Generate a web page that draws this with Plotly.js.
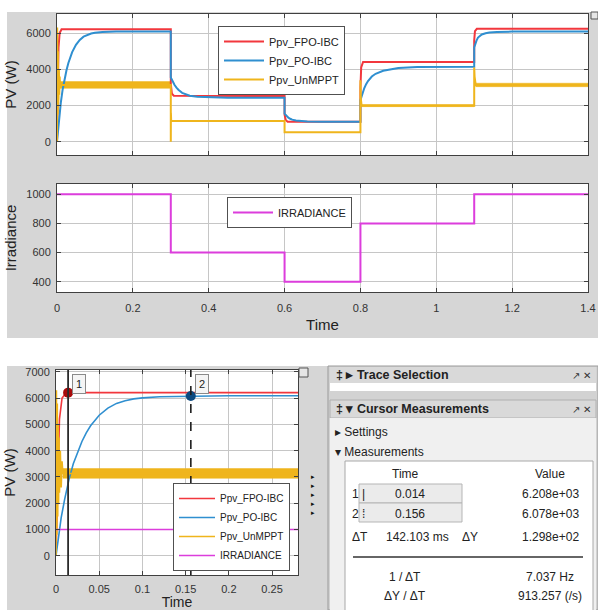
<!DOCTYPE html>
<html>
<head>
<meta charset="utf-8">
<script src="https://cdn.plot.ly/plotly-3.0.1.min.js"></script>
<style>html,body{margin:0;padding:0;background:#fff;}#chart{width:598px;height:610px;}</style>
</head>
<body>
<div id="chart"></div>
<script>
// ---------------- data ----------------
const tFPO = [0, 0.002, 0.004, 0.007, 0.012, 0.3, 0.3, 0.303, 0.308, 0.6, 0.6, 0.603, 0.608, 0.8, 0.8, 0.802, 0.807, 1.1, 1.1, 1.102, 1.107, 1.4];
const pFPO = [0, 3000, 5200, 6000, 6208, 6208, 3200, 2650, 2540, 2520, 1500, 1200, 1110, 1100, 3000, 4100, 4400, 4400, 5600, 6100, 6230, 6230];

const tPO = [0, 0.003, 0.006, 0.01, 0.015, 0.02, 0.025, 0.03, 0.035, 0.04, 0.05, 0.06, 0.07, 0.08, 0.09, 0.1, 0.12, 0.156, 0.2, 0.3,
             0.3, 0.303, 0.306, 0.31, 0.315, 0.32, 0.33, 0.34, 0.35, 0.37, 0.4, 0.45, 0.5, 0.6,
             0.6, 0.603, 0.606, 0.61, 0.615, 0.62, 0.63, 0.64, 0.66, 0.7, 0.8,
             0.8, 0.803, 0.806, 0.81, 0.815, 0.82, 0.83, 0.84, 0.86, 0.88, 0.9, 0.95, 1.0, 1.1,
             1.1, 1.103, 1.106, 1.11, 1.115, 1.12, 1.13, 1.14, 1.16, 1.18, 1.2, 1.4];
const pPO = [0, 750, 1450, 2150, 2900, 3500, 3950, 4350, 4680, 4950, 5350, 5620, 5800, 5900, 5970, 6010, 6050, 6078, 6090, 6090,
             3550, 3400, 3270, 3130, 2990, 2870, 2700, 2600, 2540, 2480, 2450, 2435, 2430, 2430,
             1550, 1470, 1400, 1330, 1270, 1220, 1170, 1140, 1115, 1105, 1100,
             2300, 2520, 2720, 2950, 3180, 3350, 3600, 3750, 3920, 4010, 4070, 4120, 4135, 4140,
             5200, 5420, 5580, 5750, 5860, 5920, 5990, 6030, 6060, 6075, 6080, 6080];

const tUn = [0, 0.0005, 0.001, 0.0015, 0.002, 0.0025, 0.003, 0.0035, 0.004, 0.005, 0.006, 0.007, 0.008, 0.3,
             0.3, 0.3003, 0.301, 0.6, 0.6, 0.8, 0.8, 0.801, 0.803, 1.1, 1.1, 1.101, 1.104, 1.4];
const pUn = [0, 6300, 800, 5800, 1500, 5000, 2000, 4500, 2400, 4000, 2600, 3600, 3130, 3130,
             0, 1600, 1140, 1140, 520, 520, 3400, 2400, 1990, 1990, 4100, 3600, 3130, 3130];

// ripple band of the unregulated (UnMPPT) power
const rippleStart = [0.008, 0.803, 1.104];
const rippleEnd   = [0.3, 1.1, 1.4];
const rippleLow   = [2950, 1940, 3040];
const rippleHigh  = [3320, 2050, 3230];

const tIrr = [0, 0.3, 0.3, 0.6, 0.6, 0.8, 0.8, 1.1, 1.1, 1.4];
const gIrr = [1000, 1000, 600, 600, 400, 400, 800, 800, 1000, 1000];

const cursorTime  = [0.014, 0.156];
const cursorValue = [6208, 6078];
const cursorNames = ['1', '2'];

const seriesNames = ['Ppv_FPO-IBC', 'Ppv_PO-IBC', 'Ppv_UnMPPT', 'IRRADIANCE'];

const tableHead = ['Time', 'Value'];
const tableRows = [
  ['1 |', '0.014', '6.208e+03'],
  ['2 ⁞', '0.156', '6.078e+03']
];
const deltaRow = ['ΔT', '142.103 ms', 'ΔY', '1.298e+02'];
const derivedRows = [['1 / ΔT', '7.037 Hz'], ['ΔY / ΔT', '913.257 (/s)']];

// ---------------- helpers ----------------
const W = 598, H = 610;
const px = x => x / W;
const py = y => 1 - y / H;
const F = 'Arial, "Liberation Sans", sans-serif';
const RED = '#f2373d', BLUE = '#2f8fd0', YEL = '#efb51c', MAG = '#dc3ddc';

// ripple polygons
const bandX = [], bandY = [];
rippleStart.forEach((s, i) => {
  bandX.push(s, rippleEnd[i], rippleEnd[i], s, s, null);
  bandY.push(rippleLow[i], rippleLow[i], rippleHigh[i], rippleHigh[i], rippleLow[i], null);
});

function ax(extra) {
  return Object.assign({
    showline: true, mirror: 'ticks', linecolor: '#404040', linewidth: 1,
    ticks: 'inside', ticklen: 4, tickcolor: '#404040',
    showgrid: true, gridcolor: '#c6c6c6', gridwidth: 1, zeroline: false,
    tickfont: {family: F, size: 11, color: '#333'}, fixedrange: true
  }, extra);
}

const traces = [];
function addSet(xa, ya, lg, lw, withIrr) {
  traces.push({x: bandX, y: bandY, xaxis: xa, yaxis: ya, mode: 'lines', fill: 'toself',
    fillcolor: YEL, line: {width: 0.5, color: YEL}, showlegend: false, hoverinfo: 'skip', legend: lg});
  traces.push({x: tFPO, y: pFPO, xaxis: xa, yaxis: ya, mode: 'lines', name: seriesNames[0],
    line: {color: RED, width: lw}, legend: lg});
  traces.push({x: tPO, y: pPO, xaxis: xa, yaxis: ya, mode: 'lines', name: seriesNames[1],
    line: {color: BLUE, width: lw}, legend: lg});
  traces.push({x: tUn, y: pUn, xaxis: xa, yaxis: ya, mode: 'lines', name: seriesNames[2],
    line: {color: YEL, width: lw}, legend: lg});
  if (withIrr) {
    traces.push({x: tIrr, y: gIrr, xaxis: xa, yaxis: ya, mode: 'lines', name: seriesNames[3],
      line: {color: MAG, width: lw}, legend: lg});
  }
}
addSet('x', 'y', 'legend', 2, false);
traces.push({x: tIrr, y: gIrr, xaxis: 'x2', yaxis: 'y2', mode: 'lines', name: seriesNames[3],
  line: {color: MAG, width: 2}, legend: 'legend2'});
addSet('x3', 'y3', 'legend3', 1.6, true);
traces.push({x: cursorTime, y: cursorValue, xaxis: 'x3', yaxis: 'y3', mode: 'markers', showlegend: false,
  marker: {size: 10, color: ['#a80b0b', '#0d4a80']}});

// ---------------- layout ----------------
const shapes = [
  // gray figure panels
  {type: 'rect', xref: 'paper', yref: 'paper', x0: px(7), x1: px(598), y0: py(338), y1: py(12), fillcolor: '#d6d6d6', line: {width: 0}, layer: 'below'},
  {type: 'rect', xref: 'paper', yref: 'paper', x0: px(7), x1: px(328), y0: py(610), y1: py(366), fillcolor: '#d6d6d6', line: {width: 0}, layer: 'below'},
  // white plot areas
  {type: 'rect', xref: 'x domain', yref: 'y domain', x0: 0, x1: 1, y0: 0, y1: 1, fillcolor: '#fff', line: {width: 0}, layer: 'below'},
  {type: 'rect', xref: 'x2 domain', yref: 'y2 domain', x0: 0, x1: 1, y0: 0, y1: 1, fillcolor: '#fff', line: {width: 0}, layer: 'below'},
  {type: 'rect', xref: 'x3 domain', yref: 'y3 domain', x0: 0, x1: 1, y0: 0, y1: 1, fillcolor: '#fff', line: {width: 0}, layer: 'below'},
  // right side tool panel
  {type: 'rect', xref: 'paper', yref: 'paper', x0: px(328), x1: px(598), y0: py(610), y1: py(366), fillcolor: '#d2d2d2', line: {color: '#9a9a9a', width: 1}, layer: 'below'},
  {type: 'rect', xref: 'paper', yref: 'paper', x0: px(330), x1: px(596), y0: py(383), y1: py(367), fillcolor: '#d9d9d9', line: {width: 0}, layer: 'below'},
  {type: 'rect', xref: 'paper', yref: 'paper', x0: px(330), x1: px(596), y0: py(391), y1: py(383), fillcolor: '#ffffff', line: {width: 0}, layer: 'below'},
  {type: 'rect', xref: 'paper', yref: 'paper', x0: px(330), x1: px(596), y0: py(418), y1: py(400), fillcolor: '#d9d9d9', line: {color: '#b0b0b0', width: 1}, layer: 'below'},
  {type: 'rect', xref: 'paper', yref: 'paper', x0: px(330), x1: px(596), y0: py(610), y1: py(418), fillcolor: '#f0f0f0', line: {width: 0}, layer: 'below'},
  {type: 'rect', xref: 'paper', yref: 'paper', x0: px(345), x1: px(593), y0: py(612), y1: py(461), fillcolor: '#ffffff', line: {color: '#a8a8a8', width: 1}, layer: 'below'},
  {type: 'rect', xref: 'paper', yref: 'paper', x0: px(359), x1: px(462), y0: py(503), y1: py(484), fillcolor: '#ebebeb', line: {color: '#b5b5b5', width: 1}, layer: 'below'},
  {type: 'rect', xref: 'paper', yref: 'paper', x0: px(359), x1: px(462), y0: py(522), y1: py(503), fillcolor: '#ebebeb', line: {color: '#b5b5b5', width: 1}, layer: 'below'},
  {type: 'line', xref: 'paper', yref: 'paper', x0: px(353), x1: px(583), y0: py(557), y1: py(557), line: {color: '#666', width: 2}},
  // cursors
  {type: 'line', xref: 'x3', yref: 'y3 domain', x0: cursorTime[0], x1: cursorTime[0], y0: 0, y1: 1, line: {color: '#2b2b2b', width: 1.8}},
  {type: 'line', xref: 'x3', yref: 'y3 domain', x0: cursorTime[1], x1: cursorTime[1], y0: 0, y1: 1, line: {color: '#1e1e1e', width: 1.6, dash: 'dash'}},
  // little corner boxes
  {type: 'rect', xref: 'paper', yref: 'paper', x0: px(299), x1: px(308), y0: py(377), y1: py(368), fillcolor: '#e6e6e6', line: {color: '#555', width: 1}},
  {type: 'rect', xref: 'paper', yref: 'paper', x0: px(591), x1: px(598), y0: py(19), y1: py(12), fillcolor: '#e6e6e6', line: {color: '#555', width: 1}}
];

const annotations = [];
function txt(x, y, text, opts) {
  annotations.push(Object.assign({xref: 'paper', yref: 'paper', x: px(x), y: py(y), text: text, showarrow: false,
    xanchor: 'left', yanchor: 'middle', font: {family: F, size: 12, color: '#222'}}, opts || {}));
}
// cursor labels
cursorNames.forEach((n, i) => {
  annotations.push({xref: 'x3', yref: 'y3 domain', x: cursorTime[i], y: 0.93, text: n, showarrow: false,
    xanchor: 'left', yanchor: 'middle', xshift: 4, bgcolor: '#f5f5f5', bordercolor: '#8a8a8a', borderwidth: 1, borderpad: 3,
    font: {family: F, size: 11, color: '#222'}});
});
// panel texts
txt(334, 375, '<b>‡ ▸ Trace Selection</b>', {font: {family: F, size: 12.5, color: '#222'}});
txt(593, 375, '↗ ✕', {xanchor: 'right', font: {family: F, size: 10, color: '#333'}});
txt(334, 409, '<b>‡ ▾ Cursor Measurements</b>', {font: {family: F, size: 12.5, color: '#222'}});
txt(593, 409, '↗ ✕', {xanchor: 'right', font: {family: F, size: 10, color: '#333'}});
txt(333, 432, '▸ Settings', {font: {family: F, size: 12, color: '#222'}});
txt(333, 452, '▾ Measurements', {font: {family: F, size: 12, color: '#222'}});
txt(405, 474, tableHead[0], {xanchor: 'center'});
txt(550, 474, tableHead[1], {xanchor: 'center'});
tableRows.forEach((r, i) => {
  const y = 494 + i * 19.5;
  txt(350, y, r[0]);
  txt(410, y, r[1], {xanchor: 'center'});
  txt(550, y, r[2], {xanchor: 'center'});
});
txt(350, 537, deltaRow[0]);
txt(417, 537, deltaRow[1], {xanchor: 'center'});
txt(470, 537, deltaRow[2], {xanchor: 'center'});
txt(550, 537, deltaRow[3], {xanchor: 'center'});
derivedRows.forEach((r, i) => {
  const y = 577 + i * 18.5;
  txt(405, y, r[0], {xanchor: 'center'});
  txt(550, y, r[1], {xanchor: 'center'});
});
txt(313, 494, '▸<br>▸<br>▸<br>▸<br>▸', {xanchor: 'center', font: {family: F, size: 7, color: '#111'}});

const legBase = {bgcolor: '#ffffff', bordercolor: '#505050', borderwidth: 1, xanchor: 'left', yanchor: 'top',
  itemwidth: 40, font: {family: F, size: 11, color: '#222'}};

const layout = {
  width: W, height: H, margin: {l: 0, r: 0, t: 0, b: 0},
  paper_bgcolor: '#ffffff', plot_bgcolor: 'rgba(0,0,0,0)',
  showlegend: true,
  xaxis: ax({domain: [px(57), px(588)], range: [0, 1.4], dtick: 0.2, showticklabels: false, anchor: 'y'}),
  yaxis: ax({domain: [py(155), py(14)], range: [-730, 7050], dtick: 2000, anchor: 'x', ticklabelstandoff: 3,
    title: {text: 'PV (W)', font: {family: F, size: 15, color: '#222'}, standoff: 6}}),
  xaxis2: ax({domain: [px(57), px(588)], range: [0, 1.4], dtick: 0.2, anchor: 'y2', ticklabelstandoff: 6,
    title: {text: 'Time', font: {family: F, size: 15, color: '#222'}, standoff: 6}}),
  yaxis2: ax({domain: [py(292), py(184)], range: [330, 1070], dtick: 200, anchor: 'x2', ticklabelstandoff: 3,
    title: {text: 'Irradiance', font: {family: F, size: 15, color: '#222'}, standoff: 6}}),
  xaxis3: ax({domain: [px(56), px(298)], range: [0, 0.28], dtick: 0.05, anchor: 'y3', ticklabelstandoff: 4,
    title: {text: 'Time', font: {family: F, size: 14, color: '#222'}, standoff: 3}}),
  yaxis3: ax({domain: [py(575), py(370)], range: [-730, 7070], dtick: 1000, anchor: 'x3', ticklabelstandoff: 3,
    title: {text: 'PV (W)', font: {family: F, size: 15, color: '#222'}, standoff: 6}}),
  legend: Object.assign({}, legBase, {x: px(218), y: py(26)}),
  legend2: Object.assign({}, legBase, {x: px(227), y: py(197)}),
  legend3: Object.assign({}, legBase, {x: px(173), y: py(483), itemwidth: 36, font: {family: F, size: 10, color: '#222'}}),
  shapes: shapes,
  annotations: annotations
};

Plotly.newPlot('chart', traces, layout, {displayModeBar: false, staticPlot: true});
</script>
</body>
</html>
